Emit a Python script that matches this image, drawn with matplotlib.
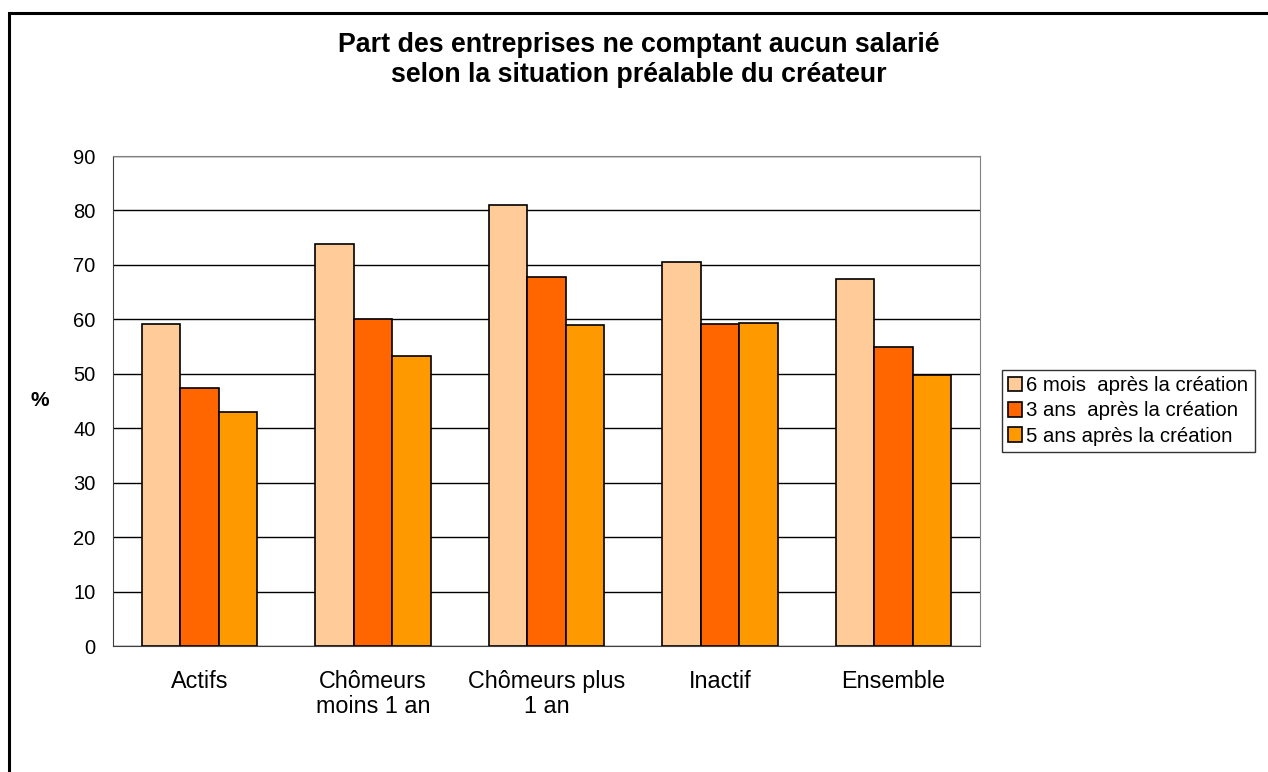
import numpy as np
import matplotlib
matplotlib.use("Agg")
import matplotlib.pyplot as plt
from matplotlib.patches import Rectangle

plt.rcParams["font.family"] = ["Liberation Sans", "DejaVu Sans"]

# =========================
# Data
# =========================

categories = ["Actifs", "Chômeurs\nmoins 1 an", "Chômeurs plus\n1 an", "Inactif", "Ensemble"]
six_mois = [59.1, 73.8, 81.0, 70.6, 67.4]
trois_ans = [47.3, 60.0, 67.8, 59.1, 54.9]
cinq_ans = [43.0, 53.3, 58.9, 59.3, 49.8]
series_labels = ["6 mois  après la création", "3 ans  après la création", "5 ans après la création"]
colors = ["#FFCC99", "#FF6600", "#FF9900"]

# =========================
# Figure
# =========================

fig = plt.figure(figsize=(12.68, 7.72), dpi=100)
ax = fig.add_axes([113 / 1268, 1 - 646 / 772, 867 / 1268, 490 / 772])

# outer frame of the chart
fig.patches.append(Rectangle((9 / 1268, -0.05), 1.1, 1 - 13 / 772 + 0.05,
                             transform=fig.transFigure, fill=False,
                             edgecolor="black", linewidth=2.2))

x = np.arange(len(categories))
width = 0.222
for i, (vals, lab) in enumerate(zip([six_mois, trois_ans, cinq_ans], series_labels)):
    ax.bar(x + (i - 1) * width, vals, width, color=colors[i], edgecolor="black",
           linewidth=1.2, label=lab, zorder=3)

ax.set_xlim(-0.5, len(categories) - 0.5)
ax.set_ylim(0, 90)
ax.set_yticks(range(0, 91, 10))
ax.yaxis.grid(True, color="black", linewidth=1.0, zorder=0)
ax.set_axisbelow(True)
ax.set_xticks(x)
ax.set_xticklabels(categories, fontsize=16.8, linespacing=1.1)
ax.tick_params(axis="y", length=0, labelsize=14.5, pad=12.5)
ax.tick_params(axis="x", length=0, pad=17.5)

for side in ["top", "right"]:
    ax.spines[side].set_color("#808080")
ax.spines["left"].set_color("#404040")
ax.spines["bottom"].set_color("#404040")

ax.set_ylabel("%", fontsize=15, fontweight="bold", rotation=0, va="center", ha="center")
ax.yaxis.set_label_coords(-0.084, 0.5)

fig.text(639 / 1268, 1 - 60 / 772,
         "Part des entreprises ne comptant aucun salarié\nselon la situation préalable du créateur",
         ha="center", va="center", fontsize=19.3, fontweight="bold", linespacing=1.2)

leg = fig.legend(loc="center left", bbox_to_anchor=(1002 / 1268, 1 - 411 / 772),
                 fontsize=14.7, frameon=True, fancybox=False, edgecolor="black",
                 handlelength=0.7, handleheight=0.7, handletextpad=0.2,
                 borderpad=0.3, labelspacing=0.3, borderaxespad=0)
leg.get_frame().set_linewidth(1.0)

fig.savefig("out.png", dpi=100)
